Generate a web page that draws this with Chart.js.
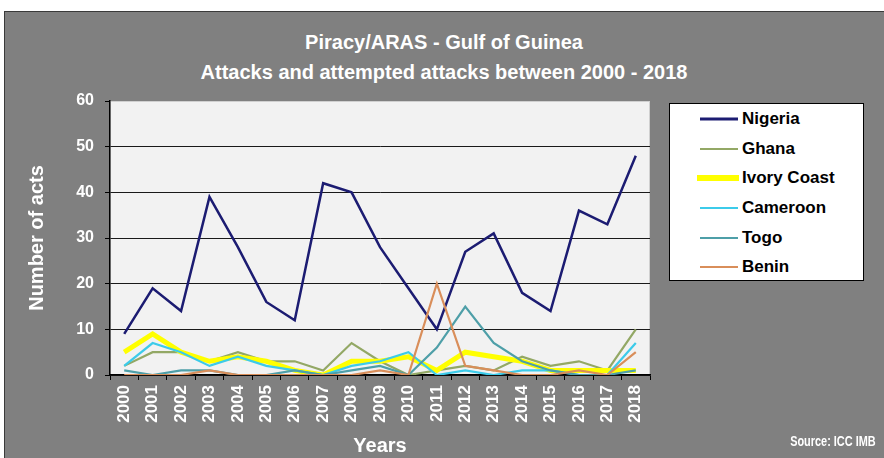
<!DOCTYPE html>
<html>
<head>
<meta charset="utf-8">
<script src="https://cdn.jsdelivr.net/npm/chart.js@4.4.0/dist/chart.umd.min.js"></script>
<style>
  html, body { margin: 0; padding: 0; background: #ffffff; }
  body { width: 884px; height: 458px; position: relative; overflow: hidden; font-family: "Liberation Sans", Arial, sans-serif; }
  #bg { position: absolute; left: 4px; top: 11px; width: 880px; height: 447px; background: #808080; border-top: 1px solid #3a3a3a; border-left: 1px solid #3a3a3a; box-sizing: border-box; }
  #title { position: absolute; left: 4px; top: 27px; width: 880px; text-align: center; color: #ffffff; font-weight: bold; font-size: 20px; line-height: 30px; }
  #c { position: absolute; left: 0; top: 0; }
  #legend { position: absolute; left: 669px; top: 103px; width: 195px; height: 178px; background: #ffffff; border: 1px solid #000; box-sizing: border-box; }
  .row { position: absolute; left: 0; height: 20px; width: 190px; }
  .swatch { position: absolute; left: 30px; width: 38px; top: 50%; transform: translateY(-50%); }
  .lab { position: absolute; left: 72px; top: 0; line-height: 20px; font-size: 17px; font-weight: bold; color: #000; white-space: nowrap; }
  #source { position: absolute; right: 8px; top: 432px; color: #ffffff; font-weight: bold; font-size: 14px; line-height: 18px; transform: scaleX(0.78); transform-origin: right center; white-space: nowrap; }
</style>
</head>
<body>
<div id="bg"></div>
<div id="title"><div>Piracy/ARAS - Gulf of Guinea</div><div>Attacks and attempted attacks between 2000 - 2018</div></div>
<canvas id="c" width="884" height="458"></canvas>
<div id="legend"></div>
<div id="source">Source: ICC IMB</div>
<script>
// ---- data ----
const years = ['2000','2001','2002','2003','2004','2005','2006','2007','2008','2009','2010','2011','2012','2013','2014','2015','2016','2017','2018'];
const nigeria  = [9, 19, 14, 39, 28, 16, 12, 42, 40, 28, 19, 10, 27, 31, 18, 14, 36, 33, 48];
const ghana    = [2, 5, 5, 3, 5, 3, 3, 1, 7, 3, 0, 1, 2, 1, 4, 2, 3, 1, 10];
const ivory    = [5, 9, 5, 3, 4, 3, 1, 0, 3, 3, 4, 1, 5, 4, 3, 1, 1, 1, 1];
const cameroon = [2, 7, 5, 2, 4, 2, 1, 0, 2, 3, 5, 0, 1, 0, 1, 1, 0, 0, 7];
const togo     = [1, 0, 1, 1, 0, 0, 1, 0, 1, 2, 0, 6, 15, 7, 3, 1, 0, 0, 1];
const benin    = [0, 0, 0, 1, 0, 0, 0, 0, 0, 1, 0, 20, 2, 1, 0, 0, 1, 0, 5];
const seriesNames = ['Nigeria', 'Ghana', 'Ivory Coast', 'Cameroon', 'Togo', 'Benin'];
const yTicks = [0, 10, 20, 30, 40, 50, 60];

const seriesData = [nigeria, ghana, ivory, cameroon, togo, benin];
const colors = ['#1c1c72', '#93a865', '#ffff00', '#3ccbea', '#4e9fa8', '#d98e5a'];
const widths = [2.5, 2.2, 5, 2.2, 2.2, 2.2];

const FONT = '"Liberation Sans", Arial, sans-serif';

const datasets = seriesNames.map((name, i) => ({
  label: name,
  data: seriesData[i],
  borderColor: colors[i],
  backgroundColor: colors[i],
  borderWidth: widths[i],
  pointRadius: 0,
  pointHoverRadius: 0,
  tension: 0,
  fill: false,
  order: -i
}));

const plotBg = {
  id: 'plotBg',
  beforeDraw(chart) {
    const {ctx, chartArea: a} = chart;
    ctx.save();
    ctx.fillStyle = '#f2f2f2';
    ctx.fillRect(a.left, a.top, a.right - a.left, a.bottom - a.top);
    ctx.strokeStyle = '#d0d0d0';
    ctx.lineWidth = 1;
    ctx.strokeRect(a.left + 0.5, a.top + 0.5, a.right - a.left - 1, a.bottom - a.top - 1);
    ctx.restore();
  }
};

new Chart(document.getElementById('c'), {
  type: 'line',
  data: { labels: years, datasets },
  options: {
    responsive: false,
    animation: false,
    devicePixelRatio: 1,
    layout: { padding: { left: 0, top: 101, right: 234, bottom: 0 } },
    plugins: { legend: { display: false }, title: { display: false }, tooltip: { enabled: false } },
    scales: {
      x: {
        type: 'category',
        offset: true,
        grid: { display: true, drawOnChartArea: false, drawTicks: true, tickLength: 5, offset: true, color: '#000', tickColor: '#000' },
        border: { display: true, color: '#000', width: 1.5 },
        ticks: { color: '#ffffff', font: { family: FONT, size: 17, weight: 'bold' }, minRotation: 90, maxRotation: 90, padding: 5, autoSkip: false },
        title: { display: true, text: 'Years', color: '#ffffff', font: { family: FONT, size: 20, weight: 'bold' }, padding: { top: 0, bottom: 0 } },
        afterFit(scale) { scale.height = 83; }
      },
      y: {
        min: 0, max: 60,
        afterBuildTicks(scale) { scale.ticks = yTicks.map(v => ({ value: v })); },
        grid: { color: (c) => (c.tick && c.tick.value === 60) ? '#d0d0d0' : '#1a1a1a', tickColor: '#000', tickLength: 5, lineWidth: 1 },
        border: { display: true, color: '#000', width: 1.5 },
        ticks: { color: '#ffffff', font: { family: FONT, size: 16, weight: 'bold' }, padding: 11 },
        title: { display: true, text: 'Number of acts', color: '#ffffff', font: { family: FONT, size: 20, weight: 'bold' }, padding: { top: 25, bottom: 0 } },
        afterFit(scale) { scale.width = 110; }
      }
    }
  },
  plugins: [plotBg]
});

// ---- HTML legend built from the series ----
const legend = document.getElementById('legend');
const rowCenters = [15, 45, 74, 104, 134, 163];
seriesNames.forEach((name, i) => {
  const row = document.createElement('div');
  row.className = 'row';
  row.style.top = (rowCenters[i] - 10) + 'px';
  const sw = document.createElement('div');
  sw.className = 'swatch';
  sw.style.height = Math.max(2, Math.round(widths[i] + (i === 2 ? 1 : 0))) + 'px';
  sw.style.background = colors[i];
  if (i === 2) { sw.style.left = '27px'; sw.style.width = '42px'; }
  const lab = document.createElement('div');
  lab.className = 'lab';
  lab.textContent = name;
  row.appendChild(sw);
  row.appendChild(lab);
  legend.appendChild(row);
});
</script>
</body>
</html>
